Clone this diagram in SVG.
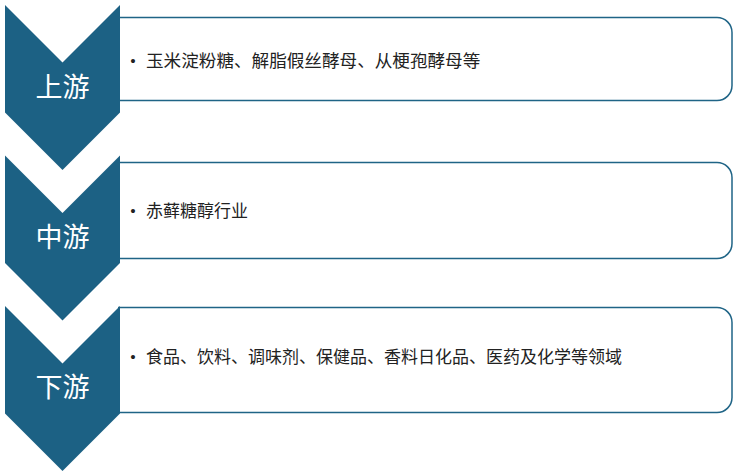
<svg xmlns="http://www.w3.org/2000/svg" width="750" height="475" viewBox="0 0 750 475">
<style>
.box{fill:#ffffff;stroke:#1f6486;stroke-width:1.5}
.chev{fill:#1c6184}
.lbl{font-family:"Liberation Serif","Noto Sans CJK SC",serif;font-size:27px;fill:#ffffff;text-anchor:middle;dominant-baseline:central}
.txt{font-family:"Liberation Serif","Noto Sans CJK SC",serif;font-size:17px;fill:#222222;dominant-baseline:central}
</style>
<rect width="750" height="475" fill="#ffffff"/>
<g id="node-upstream">
<path class="box" d="M118,17.5 H717 A15,15 0 0 1 732,32.5 V85.5 A15,15 0 0 1 717,100.5 H118"/>
<polygon class="chev" points="5,5 62.5,62.5 120,5 120,112.5 62.5,170 5,112.5"/>
<text class="lbl" x="62.5" y="88">上游</text>
<text class="txt" x="130" y="61">•</text>
<text class="txt" x="146" y="61" style="font-size:17.6px">玉米淀粉糖、解脂假丝酵母、从梗孢酵母等</text>
</g>
<g id="node-midstream">
<path class="box" d="M118,162.5 H717 A15,15 0 0 1 732,177.5 V243.5 A15,15 0 0 1 717,258.5 H118"/>
<polygon class="chev" points="5,155.5 62.5,213 120,155.5 120,263 62.5,320.5 5,263"/>
<text class="lbl" x="62.5" y="238">中游</text>
<text class="txt" x="130" y="211">•</text>
<text class="txt" x="146" y="211">赤藓糖醇行业</text>
</g>
<g id="node-downstream">
<path class="box" d="M118,307.5 H717 A15,15 0 0 1 732,322.5 V397.5 A15,15 0 0 1 717,412.5 H118"/>
<polygon class="chev" points="5,306 62.5,363.5 120,306 120,413.5 62.5,471 5,413.5"/>
<text class="lbl" x="62.5" y="388">下游</text>
<text class="txt" x="130" y="357">•</text>
<text class="txt" x="146" y="357">食品、饮料、调味剂、保健品、香料日化品、医药及化学等领域</text>
</g>
<g id="connectors"></g>
</svg>
